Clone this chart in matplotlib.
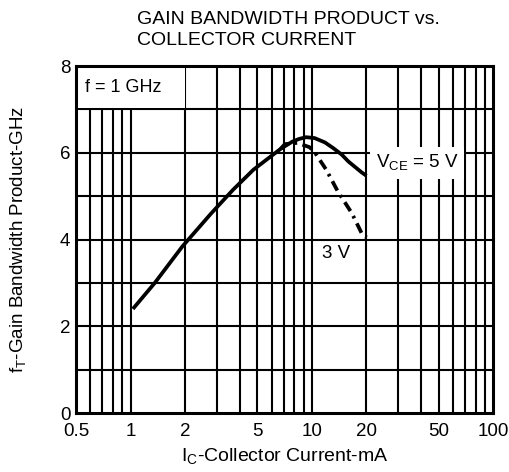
import matplotlib
matplotlib.use("Agg")
import matplotlib.pyplot as plt
from matplotlib.patches import Rectangle

plt.rcParams['font.family'] = ['Liberation Sans', 'DejaVu Sans']
plt.rcParams['mathtext.fontset'] = 'custom'
plt.rcParams['mathtext.rm'] = 'Liberation Sans'

# readings (Ic in mA, fT in GHz)
ic_5v = [1.03, 1.36, 1.93, 2.78, 3.68, 4.76, 6.72, 7.82, 8.5, 9.29, 10.35, 11.8, 13.1, 14.6, 15.9, 18.8, 20]
ft_5v = [2.40, 3.00, 3.84, 4.60, 5.15, 5.61, 6.09, 6.26, 6.32, 6.36, 6.34, 6.24, 6.11, 5.96, 5.80, 5.55, 5.47]
ic_3v = [6.72, 7.1, 8.3, 9.7, 10.3, 12.0, 13.9, 16.6, 18.8, 20]
ft_3v = [6.09, 6.20, 6.23, 6.13, 6.03, 5.61, 5.11, 4.61, 4.15, 4.05]

xticks = [0.5, 1, 2, 5, 10, 20, 50, 100]
xtick_labels = ['0.5', '1', '2', '5', '10', '20', '50', '100']
xgrid = [0.6, 0.7, 0.8, 0.9, 1, 2, 3, 4, 5, 6, 7, 8, 9, 10, 20, 30, 40, 50, 60, 70, 80, 90]
yticks = [0, 2, 4, 6, 8]
ygrid = [1, 2, 3, 4, 5, 6, 7]

fig = plt.figure(figsize=(5.1, 4.72), dpi=100)
ax = fig.add_axes([0.149, 0.125, 0.818, 0.735])
ax.set_xscale('log')
ax.set_xlim(0.5, 100)
ax.set_ylim(0, 8)

for x in xgrid:
    ax.axvline(x, color='black', lw=1.5, zorder=1)
for y in ygrid:
    ax.axhline(y, color='black', lw=1.5, zorder=1)

# white label box in the top-left corner
ax.add_patch(Rectangle((0.5, 7.03), 1.5, 0.97, facecolor='white', edgecolor='none', zorder=2))
ax.text(0.56, 7.5, 'f = 1 GHz', fontsize=13, va='center', ha='left', zorder=3)

ax.plot(ic_5v, ft_5v, color='black', lw=2.7, solid_capstyle='butt', zorder=4)
ax.plot(ic_3v, ft_3v, color='black', lw=2.7, linestyle=(0, (2.8, 1.5, 0.7, 1.5)), zorder=4)

ax.text(38, 5.76, r'V$_{\mathregular{CE}}$ = 5 V', fontsize=13.5, ha='center', va='center', zorder=3,
        bbox=dict(facecolor='white', edgecolor='none', pad=4))
ax.text(13.6, 3.67, '3 V', fontsize=13.5, ha='center', va='center', zorder=3)

ax.set_xticks(xticks)
ax.set_xticklabels(xtick_labels)
ax.minorticks_off()
ax.set_yticks(yticks)
ax.tick_params(length=0, labelsize=13.5, pad=4)
ax.tick_params(axis='x', pad=7)
for s in ax.spines.values():
    s.set_linewidth(2.2)
    s.set_zorder(5)

ax.set_xlabel(r'I$_{\mathregular{C}}$-Collector Current-mA', fontsize=14, labelpad=5)
ax.set_ylabel(r'f$_{\mathregular{T}}$-Gain Bandwidth Product-GHz', fontsize=13.5, labelpad=22)

fig.text(137 / 510, 1 - 30 / 472, 'GAIN BANDWIDTH PRODUCT vs.\nCOLLECTOR CURRENT',
         fontsize=14, ha='left', va='center', linespacing=1.25)

fig.savefig('out.png', dpi=100)
